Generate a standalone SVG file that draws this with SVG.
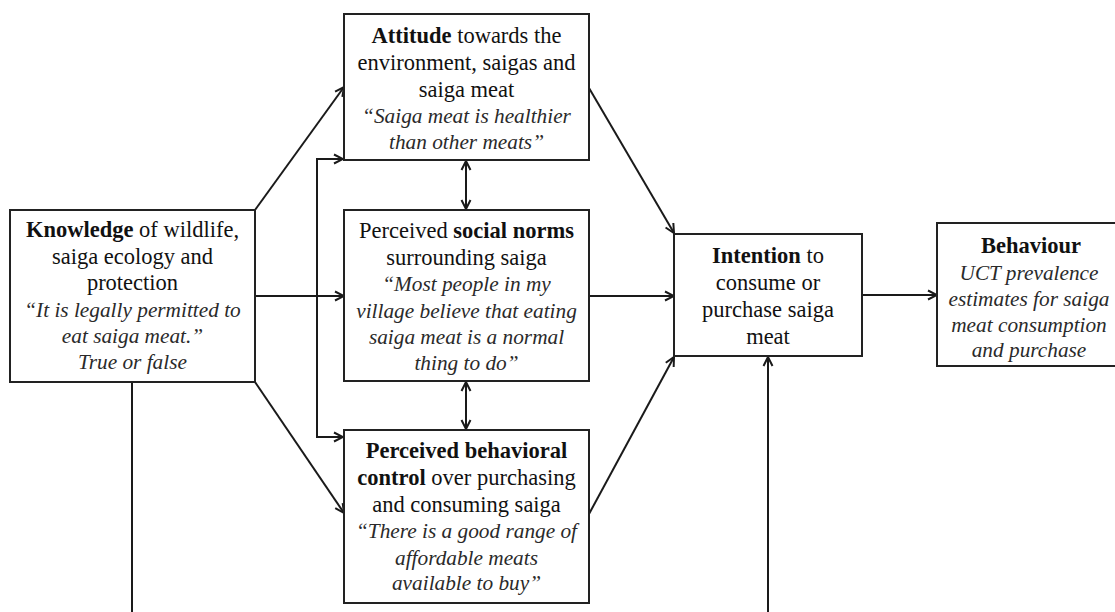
<svg xmlns="http://www.w3.org/2000/svg" width="1115" height="612" viewBox="0 0 1115 612">
<style>
.box{fill:#fff;stroke:#222;stroke-width:2}
.t{font-family:"Liberation Serif","Times New Roman",serif;font-size:22.5px;fill:#111;text-anchor:middle}
.b{font-weight:bold}
.i{font-style:italic;fill:#2a2a2a;font-size:21.3px}
.c{fill:none;stroke:#1a1a1a;stroke-width:2}
</style>
<defs>
<marker id="ah" markerUnits="userSpaceOnUse" viewBox="0 0 12 12" refX="11" refY="6" markerWidth="12" markerHeight="12" orient="auto-start-reverse">
<path d="M2,1.5 L11,6 L2,10.5" fill="none" stroke="#1a1a1a" stroke-width="2"/>
</marker>
</defs>
<rect width="1115" height="612" fill="#fff"/>
<g id="connectors">
<line class="c" x1="255" y1="210" x2="344" y2="87" marker-end="url(#ah)"/>
<line class="c" x1="255" y1="296" x2="344" y2="296" marker-end="url(#ah)"/>
<line class="c" x1="255" y1="382" x2="344" y2="513" marker-end="url(#ah)"/>
<path class="c" d="M317,298 V159 H343" marker-end="url(#ah)"/>
<path class="c" d="M317,159 V437 H343" marker-end="url(#ah)"/>
<line class="c" x1="466" y1="161" x2="466" y2="209" marker-start="url(#ah)" marker-end="url(#ah)"/>
<line class="c" x1="466" y1="382" x2="466" y2="429" marker-start="url(#ah)" marker-end="url(#ah)"/>
<line class="c" x1="589" y1="88" x2="674" y2="233" marker-end="url(#ah)"/>
<line class="c" x1="589" y1="296" x2="674" y2="296" marker-end="url(#ah)"/>
<line class="c" x1="589" y1="514" x2="674" y2="357" marker-end="url(#ah)"/>
<line class="c" x1="862" y1="295" x2="937" y2="295" marker-end="url(#ah)"/>
<line class="c" x1="132" y1="382" x2="132" y2="612"/>
<line class="c" x1="768" y1="612" x2="768" y2="357" marker-end="url(#ah)"/>
</g>
<g id="knowledge">
<rect class="box" x="10" y="210" width="245" height="172"/>
<text class="t" x="132.5" y="237"><tspan class="b">Knowledge</tspan> of wildlife,</text>
<text class="t" x="132.5" y="263.5">saiga ecology and</text>
<text class="t" x="132.5" y="290">protection</text>
<text class="t i" x="132.5" y="316.5">“It is legally permitted to</text>
<text class="t i" x="132.5" y="343">eat saiga meat.”</text>
<text class="t i" x="132.5" y="369">True or false</text>
</g>
<g id="attitude">
<rect class="box" x="344" y="14" width="245" height="146"/>
<text class="t" x="466.5" y="43"><tspan class="b">Attitude</tspan> towards the</text>
<text class="t" x="466.5" y="70">environment, saigas and</text>
<text class="t" x="466.5" y="97">saiga meat</text>
<text class="t i" x="466.5" y="123">“Saiga meat is healthier</text>
<text class="t i" x="466.5" y="149">than other meats”</text>
</g>
<g id="norms">
<rect class="box" x="344" y="210" width="245" height="171"/>
<text class="t" x="466.5" y="238">Perceived <tspan class="b">social norms</tspan></text>
<text class="t" x="466.5" y="265">surrounding saiga</text>
<text class="t i" x="466.5" y="291">“Most people in my</text>
<text class="t i" x="466.5" y="317.5">village believe that eating</text>
<text class="t i" x="466.5" y="344">saiga meat is a normal</text>
<text class="t i" x="466.5" y="370">thing to do”</text>
</g>
<g id="pbc">
<rect class="box" x="344" y="430" width="245" height="173"/>
<text class="t b" x="466.5" y="458">Perceived behavioral</text>
<text class="t" x="466.5" y="485"><tspan class="b">control</tspan> over purchasing</text>
<text class="t" x="466.5" y="512">and consuming saiga</text>
<text class="t i" x="466.5" y="538">“There is a good range of</text>
<text class="t i" x="466.5" y="564.5">affordable meats</text>
<text class="t i" x="466.5" y="590">available to buy”</text>
</g>
<g id="intention">
<rect class="box" x="674" y="234" width="188" height="122"/>
<text class="t" x="768" y="263"><tspan class="b">Intention</tspan> to</text>
<text class="t" x="768" y="290">consume or</text>
<text class="t" x="768" y="317">purchase saiga</text>
<text class="t" x="768" y="344">meat</text>
</g>
<g id="behaviour">
<rect class="box" x="937" y="223" width="190" height="143"/>
<text class="t b" x="1031" y="253">Behaviour</text>
<text class="t i" x="1029" y="280">UCT prevalence</text>
<text class="t i" x="1029" y="306">estimates for saiga</text>
<text class="t i" x="1029" y="332">meat consumption</text>
<text class="t i" x="1029" y="357">and purchase</text>
</g>
</svg>
